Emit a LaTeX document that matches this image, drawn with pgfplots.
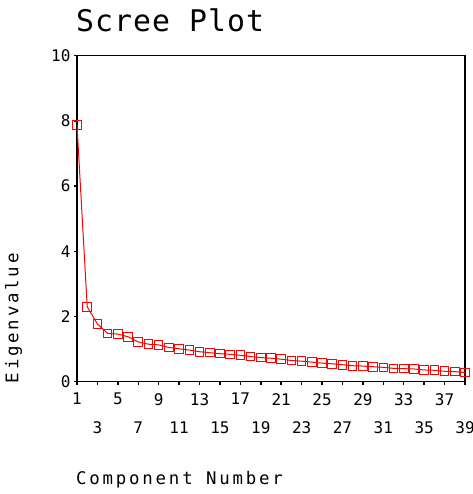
\documentclass[border=0pt]{standalone}
\usepackage{fontspec}
\usepackage{pgfplots}
\pgfplotsset{compat=1.18}
\newfontfamily\spss{DejaVu Sans Mono}
\newfontfamily\spsslab[LetterSpace=16]{DejaVu Sans Mono}
\newfontfamily\spsstitle[LetterSpace=3.5]{DejaVu Sans Mono}

\begin{document}
\begin{tikzpicture}
\useasboundingbox (-77pt,-112.3pt) rectangle (395pt,381.7pt);
\begin{axis}[
    at={(0,0)}, anchor=south west,
    scale only axis,
    width=388pt,
    height=326pt,
    xmin=1, xmax=39,
    ymin=0, ymax=10,
    xtick={1,5,...,37},
    extra x ticks={3,7,...,39},
    xticklabel style={yshift=-5pt},
    extra x tick style={xticklabel style={yshift=-28.5pt}},
    ytick={0,2,...,10},
    xtick pos=bottom, ytick pos=left,
    tick align=outside,
    major tick length=3pt,
    tick style={black, line width=1.5pt},
    axis line style={black, line width=1.2pt},
    /pgf/number format/assume math mode=true,
    tick label style={font=\spss\fontsize{16}{16}\selectfont},
    clip=false,
]
\addplot[red, line width=1pt, mark=square, mark size=4.3pt,
    mark options={red, line width=1pt, fill=none}] coordinates {
    (1,7.87) (2,2.30) (3,1.77) (4,1.48) (5,1.46) (6,1.38) (7,1.22) (8,1.15)
    (9,1.13) (10,1.05) (11,1.01) (12,0.97) (13,0.92) (14,0.89) (15,0.86)
    (16,0.84) (17,0.81) (18,0.77) (19,0.74) (20,0.72) (21,0.69) (22,0.65)
    (23,0.63) (24,0.60) (25,0.57) (26,0.55) (27,0.52) (28,0.49) (29,0.48)
    (30,0.46) (31,0.44) (32,0.41) (33,0.40) (34,0.39) (35,0.36) (36,0.35)
    (37,0.32) (38,0.31) (39,0.28)
};
\node[xshift=-58.7pt, yshift=-1.6pt, rotate=90, anchor=base west, inner sep=0pt,
    font=\spsslab\fontsize{17.4}{18}\selectfont]
    at (rel axis cs:0,0) {Eigenvalue};
\node[xshift=-1pt, yshift=24pt, anchor=base west, inner sep=0pt,
    font=\spsstitle\fontsize{29.8}{30}\selectfont]
    at (rel axis cs:0,1) {Scree Plot};
\node[xshift=-1pt, yshift=-102.6pt, anchor=base west, inner sep=0pt,
    font=\spsslab\fontsize{17.4}{18}\selectfont]
    at (rel axis cs:0,0) {Component Number};
\end{axis}
\end{tikzpicture}
\end{document}
